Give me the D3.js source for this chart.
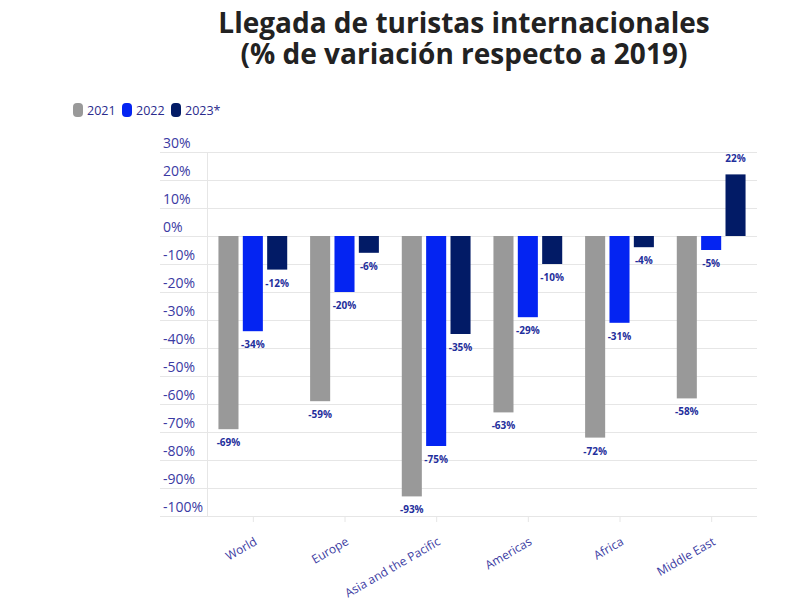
<!DOCTYPE html>
<html>
<head>
<meta charset="utf-8">
<script src="https://cdn.jsdelivr.net/npm/d3@7"></script>
<style>
body { margin: 0; background: #fff; }
svg { display: block; font-family: "Open Sans", sans-serif; }
</style>
</head>
<body>
<svg id="chart" width="807" height="613"></svg>
<script>
var regions = ["World", "Europe", "Asia and the Pacific", "Americas", "Africa", "Middle East"];
var years = ["2021", "2022", "2023*"];
var v2021 = [-69, -59, -93, -63, -72, -58];
var v2022 = [-34, -20, -75, -29, -31, -5];
var v2023 = [-12, -6, -35, -10, -4, 22];
var yTicks = [30, 20, 10, 0, -10, -20, -30, -40, -50, -60, -70, -80, -90, -100];
var colors = ["#999999", "#0424f2", "#021b66"];

var series = [v2021, v2022, v2023];
var svg = d3.select("#chart");

var plotL = 207, plotR = 757, plotT = 152, plotB = 516;

var y = d3.scaleLinear().domain([30, -100]).range([plotT, plotB]);
var x0 = d3.scaleBand().domain(regions).range([plotL, plotR]);
var x1 = d3.scaleBand().domain(years).range([0, x0.bandwidth()]).paddingInner(0.177).paddingOuter(0.47);

// title
svg.append("text")
	.attr("x", 464).attr("y", 33)
	.attr("text-anchor", "middle")
	.attr("font-size", 28).attr("font-weight", "bold").attr("fill", "#222")
	.text("Llegada de turistas internacionales");
svg.append("text")
	.attr("x", 464).attr("y", 64)
	.attr("text-anchor", "middle")
	.attr("font-size", 28).attr("font-weight", "bold").attr("fill", "#222")
	.text("(% de variación respecto a 2019)");

// legend
var leg = svg.append("g");
var legX = [73, 122, 171];
years.forEach(function (yr, i) {
	leg.append("rect")
		.attr("x", legX[i]).attr("y", 103)
		.attr("width", 10).attr("height", 14)
		.attr("rx", 4).attr("ry", 4)
		.attr("fill", colors[i]);
	leg.append("text")
		.attr("x", legX[i] + 14).attr("y", 115)
		.attr("font-size", 12.5).attr("fill", "#2b2b8c")
		.text(yr);
});

// grid + y labels
var yAxis = svg.append("g");
yAxis.selectAll("line").data(yTicks).enter().append("line")
	.attr("x1", 160).attr("x2", plotR)
	.attr("y1", function (d) { return y(d) + 0.5; })
	.attr("y2", function (d) { return y(d) + 0.5; })
	.attr("stroke", "#e6e6e6");
yAxis.selectAll("text").data(yTicks).enter().append("text")
	.attr("x", 163)
	.attr("y", function (d) { return y(d) - 4; })
	.attr("font-size", 14).attr("fill", "#3a3aa3")
	.text(function (d) { return d + "%"; });

svg.append("line")
	.attr("x1", plotL + 0.5).attr("x2", plotL + 0.5)
	.attr("y1", plotT).attr("y2", plotB)
	.attr("stroke", "#e6e6e6");

// x axis ticks and labels
var xAxis = svg.append("g");
regions.forEach(function (r) {
	var cx = x0(r) + x0.bandwidth() / 2;
	xAxis.append("line")
		.attr("x1", cx + 0.5).attr("x2", cx + 0.5)
		.attr("y1", plotB).attr("y2", plotB + 6)
		.attr("stroke", "#e6e6e6");
	xAxis.append("text")
		.attr("transform", "translate(" + (cx + 5) + "," + (plotB + 28) + ") rotate(-30)")
		.attr("text-anchor", "end")
		.attr("font-size", 12).attr("fill", "#3d3da3")
		.text(r);
});

// bars
var bars = svg.append("g");
regions.forEach(function (r, ri) {
	series.forEach(function (s, si) {
		var v = s[ri];
		var bx = x0(r) + x1(years[si]);
		bars.append("rect")
			.attr("x", bx)
			.attr("y", y(Math.max(0, v)))
			.attr("width", x1.bandwidth())
			.attr("height", Math.abs(y(v) - y(0)))
			.attr("fill", colors[si]);
		bars.append("text")
			.attr("x", bx + x1.bandwidth() / 2)
			.attr("y", v < 0 ? y(v) + 17 : y(v) - 12)
			.attr("text-anchor", "middle")
			.attr("font-size", 10).attr("font-weight", "bold").attr("fill", "#1f2f9c")
			.text(v + "%");
	});
});
</script>
</body>
</html>
